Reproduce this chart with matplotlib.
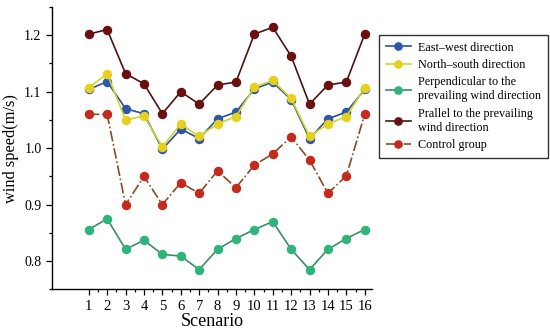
import matplotlib.pyplot as plt
import numpy as np

plt.rcParams['font.family'] = ['Liberation Serif', 'DejaVu Serif']

scenarios = np.arange(1, 17)
east_west = [1.104, 1.118, 1.070, 1.061, 0.998, 1.034, 1.017, 1.052,
             1.064, 1.105, 1.117, 1.086, 1.017, 1.052, 1.064, 1.104]
north_south = [1.107, 1.132, 1.050, 1.057, 1.002, 1.043, 1.021, 1.043,
               1.056, 1.108, 1.120, 1.088, 1.021, 1.043, 1.056, 1.107]
perpendicular = [0.856, 0.875, 0.821, 0.837, 0.812, 0.809, 0.785, 0.821,
                 0.840, 0.856, 0.870, 0.821, 0.785, 0.821, 0.840, 0.856]
parallel = [1.202, 1.210, 1.132, 1.114, 1.061, 1.100, 1.078, 1.112,
            1.117, 1.202, 1.214, 1.163, 1.078, 1.112, 1.117, 1.202]
control = [1.060, 1.060, 0.900, 0.950, 0.900, 0.939, 0.920, 0.960,
           0.930, 0.970, 0.990, 1.020, 0.979, 0.920, 0.951, 1.060]

fig = plt.figure(figsize=(5.5, 3.33), dpi=100)
ax = fig.add_axes([0.0945, 0.131, 0.582, 0.848])

ms = 5.8
ax.plot(scenarios, east_west, '-o', color='#2a4f9a', mfc='#2d57a8', mec='#2d57a8',
        lw=1.2, ms=ms, label='East\u2013west direction')
ax.plot(scenarios, north_south, '-o', color='#cdd62c', mfc='#e6d01e', mec='#e6d01e',
        lw=1.2, ms=ms, label='North\u2013south direction')
ax.plot(scenarios, perpendicular, '-o', color='#3f8a6c', mfc='#2fb47c', mec='#2fb47c',
        lw=1.2, ms=ms, label='Perpendicular to the\nprevailing wind direction')
ax.plot(scenarios, parallel, '-o', color='#4a1414', mfc='#6a1010', mec='#6a1010',
        lw=1.2, ms=ms, label='Prallel to the prevailing\nwind direction')
ax.plot(scenarios, control, '-.o', color='#8a4a22', mfc='#c42a1e', mec='#c42a1e',
        lw=1.2, ms=ms, label='Control group')

ax.set_xlim(-1, 16.4)
ax.set_ylim(0.75, 1.25)
ax.set_xticks(scenarios)
ax.set_xticks(np.arange(1.5, 16.5, 1), minor=True)
ax.set_yticks([0.8, 0.9, 1.0, 1.1, 1.2])
ax.set_yticks([0.75, 0.85, 0.95, 1.05, 1.15, 1.25], minor=True)
ax.tick_params(which='both', direction='out', labelsize=10.5, width=0.9)
ax.tick_params(which='major', length=4)
ax.tick_params(which='minor', length=2)
ax.tick_params(axis='y', labelsize=10)
for s in ['top', 'right']:
    ax.spines[s].set_visible(False)
for s in ['left', 'bottom']:
    ax.spines[s].set_linewidth(1.0)

ax.set_xlabel('Scenario', fontsize=13, labelpad=0)
ax.set_ylabel('wind speed(m/s)', fontsize=11.8, labelpad=4)

leg = fig.legend(loc='upper left', bbox_to_anchor=(0.689, 0.895), fontsize=8.7,
                 frameon=True, fancybox=False, edgecolor='black', handlelength=2.1,
                 labelspacing=0.45, handletextpad=0.6, borderpad=0.55,
                 borderaxespad=0, markerscale=0.9)
leg.get_frame().set_linewidth(1.0)

fig.savefig('out.png', dpi=100)
